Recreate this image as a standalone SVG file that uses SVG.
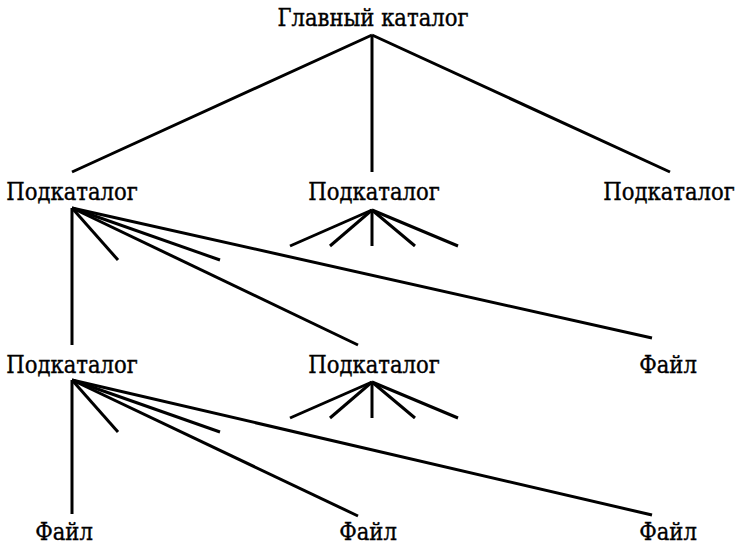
<svg xmlns="http://www.w3.org/2000/svg" width="736" height="549" viewBox="0 0 736 549">
<style>
text{font-family:"DejaVu Serif Condensed","DejaVu Serif",serif;font-stretch:condensed;font-size:23.5px;fill:#000;stroke:#000;stroke-width:0.35;text-anchor:middle}
line{stroke:#000;stroke-width:3;stroke-linecap:butt}
</style>
<rect width="736" height="549" fill="#fff"/>
<g id="connectors">
<line x1="372" y1="35" x2="72" y2="172"/>
<line x1="372" y1="35" x2="372" y2="172"/>
<line x1="372" y1="35" x2="670" y2="172"/>
<line x1="72" y1="208" x2="72" y2="345"/>
<line x1="72" y1="208" x2="118" y2="260"/>
<line x1="72" y1="208" x2="220" y2="260"/>
<line x1="72" y1="208" x2="358" y2="345"/>
<line x1="72" y1="208" x2="652" y2="338"/>
<line x1="372" y1="210" x2="290" y2="246"/>
<line x1="372" y1="210" x2="330" y2="246"/>
<line x1="372" y1="210" x2="372" y2="246"/>
<line x1="372" y1="210" x2="415" y2="246"/>
<line x1="372" y1="210" x2="458" y2="246"/>
<line x1="72" y1="380" x2="72" y2="514"/>
<line x1="72" y1="380" x2="118" y2="432"/>
<line x1="72" y1="380" x2="220" y2="432"/>
<line x1="72" y1="380" x2="358" y2="516"/>
<line x1="72" y1="380" x2="652" y2="515"/>
<line x1="372" y1="382" x2="290" y2="418"/>
<line x1="372" y1="382" x2="330" y2="418"/>
<line x1="372" y1="382" x2="372" y2="418"/>
<line x1="372" y1="382" x2="415" y2="418"/>
<line x1="372" y1="382" x2="458" y2="418"/>
</g>
<g id="root"><text x="373" y="26">Главный каталог</text></g>
<g id="sub1"><text x="72" y="200">Подкаталог</text></g>
<g id="sub2"><text x="374" y="200">Подкаталог</text></g>
<g id="sub3"><text x="669" y="200">Подкаталог</text></g>
<g id="sub11"><text x="72" y="373">Подкаталог</text></g>
<g id="sub12"><text x="374" y="373">Подкаталог</text></g>
<g id="file1"><text x="668" y="373">Файл</text></g>
<g id="file2"><text x="64" y="540">Файл</text></g>
<g id="file3"><text x="368" y="540">Файл</text></g>
<g id="file4"><text x="668" y="540">Файл</text></g>
</svg>
